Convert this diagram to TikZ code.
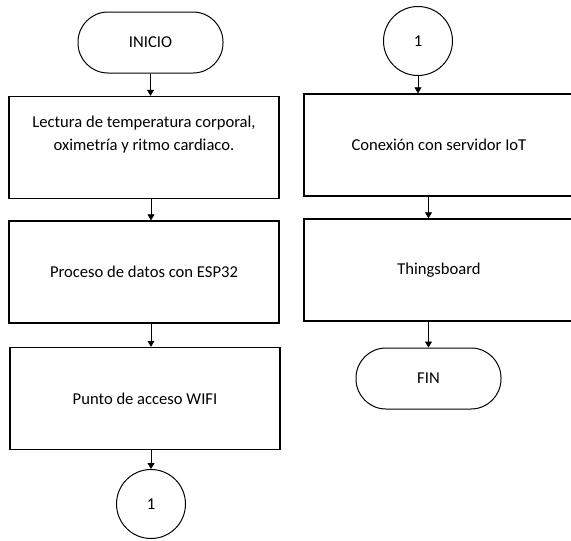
\documentclass[tikz,border=0pt]{standalone}
\usepackage{fontspec}
\setmainfont{Carlito}
\usetikzlibrary{arrows.meta}

\begin{document}
\begin{tikzpicture}[x=1pt, y=-1pt,
        proc/.style={draw, line width=1.4pt, minimum width=270pt, minimum height=102pt, align=center, font=\fontsize{16.6}{23}\selectfont},
        term/.style={draw, line width=1pt, rounded corners=30pt, minimum width=145pt, minimum height=61pt, font=\fontsize{16.6}{20}\selectfont},
        conn/.style={draw, circle, line width=1pt, minimum size=69pt, inner sep=0pt, font=\fontsize{16.6}{20}\selectfont},
        flow/.style={-{Triangle[length=6pt, width=7pt]}, line width=0.8pt}]
        \useasboundingbox (0,0) rectangle (571,541);
        \clip (0,0) rectangle (571,541);
        \node[term] (ini) at (150.5, 42.5) {INICIO};
        \node[proc] (b1)  at (144, 147.5) {Lectura de temperatura corporal,\\ oximetría y ritmo cardiaco.\\[5pt]\mbox{}};
        \node[proc] (b2)  at (144, 272)   {Proceso de datos con ESP32};
        \node[proc] (b3)  at (145, 398.5) {Punto de acceso WIFI};
        \node[conn] (c1)  at (151, 504)   {1};
        \node[conn] (c2)  at (418, 41)    {1};
        \node[proc] (b4)  at (439, 145)   {Conexión con servidor IoT};
        \node[proc] (b5)  at (439, 270)   {Thingsboard};
        \node[term] (fin) at (428.5, 378.5) {FIN};
        \draw[flow] (ini.south)     -- (ini.south |- b1.north);
        \draw[flow] (c1 |- b1.south) -- (c1 |- b2.north);
        \draw[flow] (c1 |- b2.south) -- (c1 |- b3.north);
        \draw[flow] (c1 |- b3.south) -- (c1.north);
        \draw[flow] (c2.south)      -- (c2 |- b4.north);
        \draw[flow] (fin |- b4.south) -- (fin |- b5.north);
        \draw[flow] (fin |- b5.south) -- (fin.north);
    \end{tikzpicture}
\end{document}
